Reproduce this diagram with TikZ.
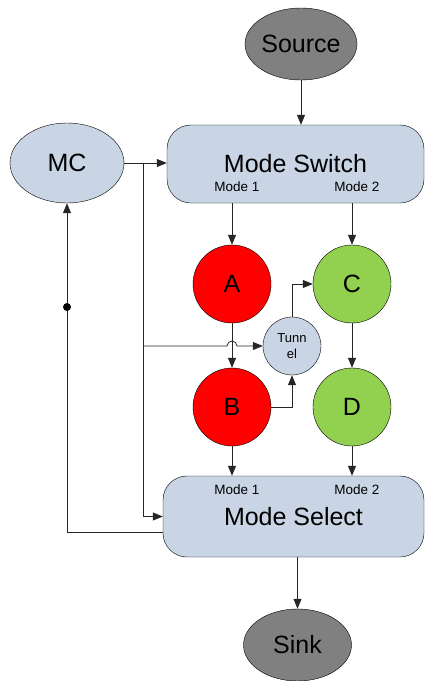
\documentclass[tikz,border=0pt]{standalone}
\usepackage{fontspec}
\setmainfont{Liberation Sans}
\usetikzlibrary{arrows.meta}
\usetikzlibrary{shapes}

\definecolor{boxblue}{HTML}{C9D5E4}
\definecolor{termgrey}{HTML}{808080}
\definecolor{nodered}{HTML}{FF0000}
\definecolor{nodegreen}{HTML}{92D050}

\tikzset{
  >={Triangle[length=10pt,width=8pt]},
  link/.style={draw=black!85, line width=0.8pt},
  bigtxt/.style={font=\fontsize{25}{28}\selectfont},
  term/.style={ellipse, draw, fill=termgrey, inner sep=0pt, minimum width=108pt, minimum height=72pt, bigtxt},
  block/.style={rectangle, draw, rounded corners=24pt, fill=boxblue, inner sep=0pt, bigtxt},
  stage/.style={circle, draw, inner sep=0pt, minimum size=78pt, bigtxt},
  modetxt/.style={font=\fontsize{13.5}{15}\selectfont, inner sep=0pt}
}

\begin{document}
\begin{tikzpicture}[x=1pt,y=-1pt]
\useasboundingbox (0,0) rectangle (425,681);

\node[term] (source) at (301,44) {Source};
\node[block, minimum width=257pt, minimum height=78pt] (switch) at (295.5,164) {Mode Switch};
\node[modetxt] (sw1) at (237,187) {Mode 1};
\node[modetxt] (sw2) at (357,187) {Mode 2};
\node[ellipse, draw, fill=boxblue, inner sep=0pt, minimum width=114pt, minimum height=80pt, bigtxt] (mc) at (67,163) {MC};

\node[stage, fill=nodered] (a) at (232,284) {A};
\node[stage, fill=nodered] (b) at (232,407) {B};
\node[stage, fill=nodegreen] (c) at (352,284) {C};
\node[stage, fill=nodegreen] (d) at (352,407) {D};
\node[circle, draw, fill=boxblue, inner sep=0pt, minimum size=58pt, align=center, font=\fontsize{13}{16}\selectfont] (tunnel) at (292,346) {Tunn\\el};

\node[block, minimum width=261pt, minimum height=81pt] (select) at (293.5,516.5) {Mode Select};
\node[modetxt] (se1) at (237,490) {Mode 1};
\node[modetxt] (se2) at (357,490) {Mode 2};
\node[term] (sink) at (297.5,645) {Sink};

\coordinate (j1) at (143,163);
\coordinate (j2) at (143,346);
\coordinate (hop) at (a.south |- j2);

\draw[link,->] (source.south) -- (source.south |- switch.north);
\draw[link,->] (mc.east) -- (switch.west |- mc.east);
\draw[link,->] (j1) |- (select.west);
\draw[link,->] (j2) -- ([xshift=-5pt]hop) arc[start angle=180, end angle=0, radius=5pt] -- (tunnel.west);

\draw[link,->] (a |- switch.south) -- (a);
\draw[link,->] (c |- switch.south) -- (c);
\draw[link,->] (a) -- (b);
\draw[link,->] (c) -- (d);
\draw[link,->] (b.east) -| (tunnel.south);
\draw[link,->] (tunnel.north) |- (c.west);
\draw[link,->] (b) -- (b |- select.north);
\draw[link,->] (d) -- (d |- select.north);

\draw[link,->] (sink.north |- select.south) -- (sink);
\draw[link,->] ([yshift=-16pt]select.west) -| (mc.south);
\fill (67,307) circle (4pt);
\end{tikzpicture}
\end{document}
